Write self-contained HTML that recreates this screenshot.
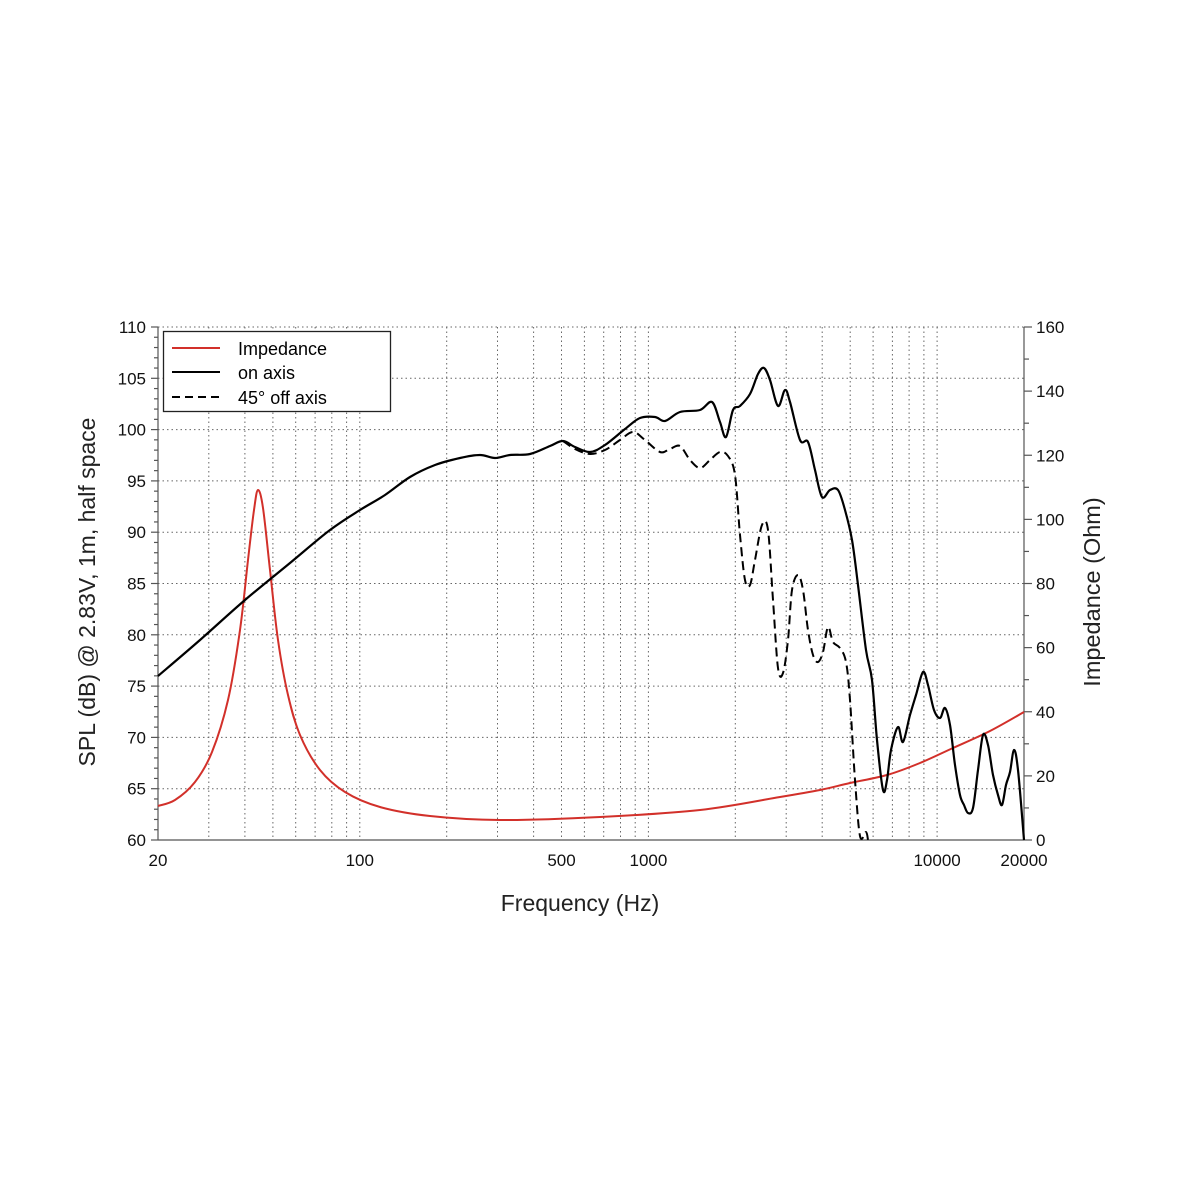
<!DOCTYPE html>
<html><head><meta charset="utf-8"><style>
html,body{margin:0;padding:0;background:#fff;}
svg{display:block;font-family:"Liberation Sans",sans-serif;}
</style></head><body>
<svg id="s" width="1182" height="1182" viewBox="0 0 1182 1182" xmlns="http://www.w3.org/2000/svg">
<rect width="1182" height="1182" fill="#fff"/>
<g id="grid"></g>
<g id="axes" stroke="#555" stroke-width="1.2" fill="none"></g>
<g id="labels" font-size="17" fill="#111"></g>
<path id="imp" fill="none" stroke="#d2302a" stroke-width="2"/>
<path id="off" fill="none" stroke="#000" stroke-width="2" stroke-dasharray="9,5"/>
<path id="on" fill="none" stroke="#000" stroke-width="2.2"/>
<text x="580" y="911" font-size="23" text-anchor="middle" fill="#222">Frequency (Hz)</text>
<text transform="translate(95,592) rotate(-90)" font-size="23" text-anchor="middle" fill="#222">SPL (dB) @ 2.83V, 1m, half space</text>
<text transform="translate(1100,592) rotate(-90)" font-size="23.5" text-anchor="middle" fill="#222">Impedance (Ohm)</text>
<g>
<rect x="163.5" y="331.5" width="227" height="80" fill="#fff" stroke="#222" stroke-width="1.3"/>
<line x1="172" y1="348" x2="220" y2="348" stroke="#d2302a" stroke-width="2"/>
<line x1="172" y1="372" x2="220" y2="372" stroke="#000" stroke-width="2"/>
<line x1="172" y1="397" x2="220" y2="397" stroke="#000" stroke-width="2" stroke-dasharray="8,5"/>
<text x="238" y="355" font-size="18">Impedance</text>
<text x="238" y="379" font-size="18">on axis</text>
<text x="238" y="404" font-size="18">45° off axis</text>
</g>
</svg>
<script>
var X0=158,X1=1024,Y0=840,Y1=327;
function fx(f){return X0+(X1-X0)*Math.log10(f/20)/3;}
var NS="http://www.w3.org/2000/svg";
function el(p,t,a,txt){var e=document.createElementNS(NS,t);for(var k in a)e.setAttribute(k,a[k]);if(txt!==undefined)e.textContent=txt;document.getElementById(p).appendChild(e);}
var fs=[];[10,100,1000,10000].forEach(function(d){for(var i=1;i<10;i++){var f=d*i;if(f>20&&f<20000)fs.push(f);}});
fs.forEach(function(f){var x=fx(f).toFixed(1);el("grid","line",{x1:x,x2:x,y1:Y1,y2:Y0,stroke:"#666","stroke-width":1,"stroke-dasharray":"1.5,3"});});
for(var d=60;d<=110;d+=5){var y=Y0-(d-60)*(Y0-Y1)/50;if(d>60)el("grid","line",{x1:X0,x2:X1,y1:y,y2:y,stroke:"#666","stroke-width":1,"stroke-dasharray":"1.5,3"});
el("labels","text",{x:146,y:y+6,"text-anchor":"end"},d);}
for(var d=60;d<=110;d++){var y=Y0-(d-60)*(Y0-Y1)/50;el("axes","line",{x1:X0-(d%5?4:7),x2:X0,y1:y,y2:y});}
for(var o=0;o<=160;o+=10){var y=Y0-o*(Y0-Y1)/160;el("axes","line",{x1:X1,x2:X1+(o%20?5:8),y1:y,y2:y});if(o%20==0)el("labels","text",{x:1036,y:y+6},o);}
el("axes","line",{x1:X0,x2:X0,y1:Y1,y2:Y0});el("axes","line",{x1:X1,x2:X1,y1:Y1,y2:Y0});el("axes","line",{x1:X0,x2:X1,y1:Y0,y2:Y0});
[20,100,500,1000,10000,20000].forEach(function(a){el("labels","text",{x:fx(a),y:866,"text-anchor":"middle"},a);});
function cr(p){var s="M"+p[0][0]+","+p[0][1];for(var i=0;i<p.length-1;i++){var a=p[i-1]||p[i],b=p[i],c=p[i+1],d=p[i+2]||c;
s+=" C"+(b[0]+(c[0]-a[0])/6).toFixed(1)+","+(b[1]+(c[1]-a[1])/6).toFixed(1)+" "+(c[0]-(d[0]-b[0])/6).toFixed(1)+","+(c[1]-(d[1]-b[1])/6).toFixed(1)+" "+c[0]+","+c[1];}return s;}
var on=[[158,676],[200,640],[245,600],[290,563],[330,530],[360,510],[385,495],[410,477],[435,465],[460,458],[480,455],[495,458],[510,455],[530,454],[550,446],[563,441],[575,447],[590,452],[605,445],[625,429],[640,418],[655,417],[665,421],[680,412],[700,410],[712,402],[720,422],[726,437],[733,410],[740,406],[750,394],[758,374],[764,368],[770,380],[778,406],[785,390],[790,402],[800,440],[808,442],[815,470],[822,497],[830,490],[838,490],[845,510],[852,540],[858,585],[866,650],[872,680],[877,740],[883,790],[887,780],[891,750],[898,727],[903,742],[910,715],[916,695],[923,672],[928,685],[934,710],[940,718],[945,708],[950,725],[955,765],[960,795],[964,805],[968,813],[973,808],[978,770],[983,735],[988,745],[993,775],[998,795],[1002,805],[1006,785],[1010,772],[1014,750],[1018,770],[1024,840]];
var off=[[563,441],[575,449],[590,454],[605,450],[620,440],[633,432],[645,440],[660,452],[670,449],[680,446],[690,460],[700,468],[710,460],[720,452],[728,456],[735,475],[740,535],[745,580],[750,585],[755,560],[762,525],[768,530],[773,600],[778,668],[783,673],[788,640],[792,590],[798,575],[803,590],[808,630],[813,655],[818,662],[823,652],[828,627],[833,642],[840,648],[846,662],[850,700],[855,780],[860,836],[866,832],[868,840]];
var imp=[[158,806],[175,800],[195,782],[212,752],[228,700],[240,630],[248,560],[254,510],[258,490],[263,508],[270,570],[278,640],[288,695],[300,735],[320,770],[345,792],[380,807],[430,816],[500,820],[600,817],[700,810],[780,797],[820,790],[850,783],[887,775],[920,763],[953,748],[990,731],[1024,712]];
document.getElementById("on").setAttribute("d",cr(on));
document.getElementById("off").setAttribute("d",cr(off));
document.getElementById("imp").setAttribute("d",cr(imp));
</script>
</body></html>
